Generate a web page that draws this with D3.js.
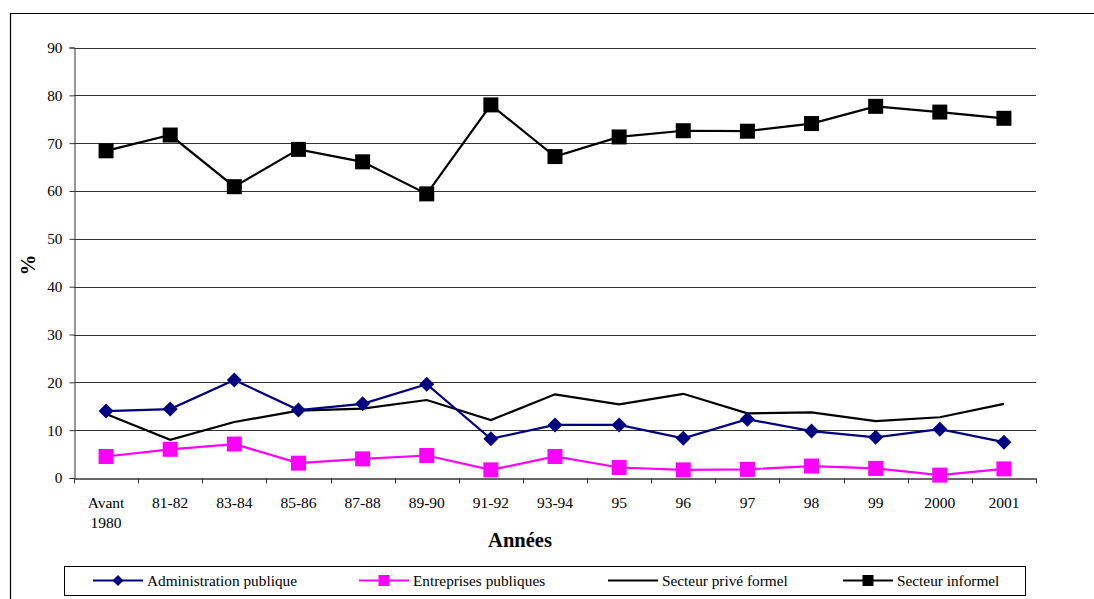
<!DOCTYPE html>
<html>
<head>
<meta charset="utf-8">
<script src="https://cdn.jsdelivr.net/npm/d3@7"></script>
<style>
  html, body { margin: 0; padding: 0; background: #fff; }
  svg { display: block; }
</style>
</head>
<body>
<svg id="chart" width="1094" height="599"></svg>
<script>
// Périodes (axe des abscisses)
const categories = ["Avant\n1980", "81-82", "83-84", "85-86", "87-88", "89-90", "91-92",
  "93-94", "95", "96", "97", "98", "99", "2000", "2001"];

// Répartition en % par secteur
const adminPublique = [14.0, 14.4, 20.5, 14.2, 15.5, 19.6, 8.2, 11.1, 11.1, 8.3, 12.3, 9.8, 8.5, 10.2, 7.5];
const entreprisesPubliques = [4.5, 6.0, 7.1, 3.1, 4.0, 4.7, 1.7, 4.5, 2.2, 1.7, 1.8, 2.5, 2.0, 0.6, 1.9];
const secteurPriveFormel = [13.4, 8.0, 11.7, 14.1, 14.5, 16.3, 12.1, 17.5, 15.4, 17.6, 13.5, 13.7, 11.9, 12.7, 15.5];
const secteurInformel = [68.4, 71.7, 60.9, 68.7, 66.1, 59.4, 78.0, 67.2, 71.3, 72.6, 72.5, 74.1, 77.7, 76.5, 75.2];

const yTicks = [0, 10, 20, 30, 40, 50, 60, 70, 80, 90];

const seriesNames = ["Administration publique", "Entreprises publiques", "Secteur privé formel", "Secteur informel"];

const FONT = "'Liberation Serif', 'Times New Roman', Times, 'DejaVu Serif', serif";

const svg = d3.select("#chart").attr("font-family", FONT);

// Cadre extérieur
svg.append("path")
  .attr("d", "M1094,13.5 L10.5,13.5 L10.5,599")
  .attr("fill", "none").attr("stroke", "#000").attr("stroke-width", 1.2);

const plot = { left: 74, right: 1036, top: 47.5, bottom: 478 };

const x = d3.scaleBand().domain(categories).range([plot.left, plot.right]).padding(0);
const y = d3.scaleLinear().domain([0, 90]).range([plot.bottom, plot.top]);
const cx = c => x(c) + x.bandwidth() / 2;

// Quadrillage horizontal
svg.append("g")
  .selectAll("line")
  .data(yTicks.filter(t => t > 0))
  .join("line")
  .attr("x1", plot.left).attr("x2", plot.right)
  .attr("y1", d => Math.round(y(d)) + 0.5).attr("y2", d => Math.round(y(d)) + 0.5)
  .attr("stroke", "#333").attr("stroke-width", 1);

// Axe des ordonnées
const yAxis = svg.append("g")
  .attr("transform", `translate(${plot.left + 0.5},0)`)
  .call(d3.axisLeft(y).tickValues(yTicks).tickSize(5).tickPadding(7))
  .attr("font-family", FONT).attr("font-size", 15.3);
yAxis.select(".domain").attr("stroke", "#333");
yAxis.selectAll(".tick line").attr("stroke", "#333");
yAxis.selectAll(".tick text").attr("fill", "#000");

// Axe des abscisses
const xAxis = svg.append("g")
  .attr("transform", `translate(0,${Math.round(plot.bottom) + 0.5})`)
  .call(d3.axisBottom(x).tickSize(0).tickFormat(""));
xAxis.select(".domain").attr("stroke", "#333").attr("stroke-width", 1.3);
// graduations entre les catégories
xAxis.selectAll("line.sep")
  .data(categories.map(c => x(c)).concat([plot.right]))
  .join("line")
  .attr("class", "sep")
  .attr("x1", d => Math.round(d) + 0.5).attr("x2", d => Math.round(d) + 0.5)
  .attr("y1", 0).attr("y2", 5)
  .attr("stroke", "#333");

// Libellés des catégories
const labels = svg.append("g").attr("font-family", FONT).attr("font-size", 15.5);
categories.forEach(c => {
  const lines = c.split("\n");
  const t = labels.append("text")
    .attr("x", cx(c)).attr("y", 508)
    .attr("text-anchor", "middle");
  lines.forEach((l, i) => {
    t.append("tspan").attr("x", cx(c)).attr("dy", i === 0 ? 0 : 20).text(l);
  });
});

// Titres des axes
svg.append("text")
  .attr("transform", "translate(35,265) rotate(-90)")
  .attr("text-anchor", "middle")
  .attr("font-size", 21).attr("font-weight", "bold")
  .text("%");

svg.append("text")
  .attr("x", 520).attr("y", 547)
  .attr("text-anchor", "middle")
  .attr("font-size", 20.5).attr("font-weight", "bold")
  .text("Années");

// Séries
const line = d3.line().x((d, i) => cx(categories[i])).y(d => y(d));

function diamond(g, data, color, size) {
  g.selectAll("path.m").data(data).join("path")
    .attr("class", "m")
    .attr("transform", (d, i) => `translate(${cx(categories[i])},${y(d)})`)
    .attr("d", `M0,${-size} L${size},0 L0,${size} L${-size},0 Z`)
    .attr("fill", color);
}
function square(g, data, color, half) {
  g.selectAll("rect.m").data(data).join("rect")
    .attr("class", "m")
    .attr("x", (d, i) => cx(categories[i]) - half)
    .attr("y", d => y(d) - half)
    .attr("width", half * 2).attr("height", half * 2)
    .attr("fill", color);
}

// Secteur privé formel (ligne seule)
svg.append("path").datum(secteurPriveFormel)
  .attr("d", line).attr("fill", "none").attr("stroke", "#000").attr("stroke-width", 2.2);

// Entreprises publiques
const gEnt = svg.append("g");
gEnt.append("path").datum(entreprisesPubliques)
  .attr("d", line).attr("fill", "none").attr("stroke", "#ff00ff").attr("stroke-width", 2.2);
square(gEnt, entreprisesPubliques, "#ff00ff", 7.5);

// Administration publique
const gAdm = svg.append("g");
gAdm.append("path").datum(adminPublique)
  .attr("d", line).attr("fill", "none").attr("stroke", "#000080").attr("stroke-width", 2.2);
diamond(gAdm, adminPublique, "#000080", 7.5);

// Secteur informel
const gInf = svg.append("g");
gInf.append("path").datum(secteurInformel)
  .attr("d", line).attr("fill", "none").attr("stroke", "#000").attr("stroke-width", 2.2);
square(gInf, secteurInformel, "#000", 7.5);

// Légende
const legend = svg.append("g").attr("font-family", FONT).attr("font-size", 15.3);
legend.append("rect")
  .attr("x", 64.5).attr("y", 566.5).attr("width", 961).attr("height", 29)
  .attr("fill", "#fff").attr("stroke", "#000").attr("stroke-width", 1);

const legendItems = [
  { name: seriesNames[0], color: "#000080", marker: "diamond", x0: 93 },
  { name: seriesNames[1], color: "#ff00ff", marker: "square", x0: 359 },
  { name: seriesNames[2], color: "#000", marker: "none", x0: 608 },
  { name: seriesNames[3], color: "#000", marker: "square", x0: 843 }
];
legendItems.forEach(it => {
  const ly = 580.5;
  legend.append("line")
    .attr("x1", it.x0).attr("x2", it.x0 + 50)
    .attr("y1", ly).attr("y2", ly)
    .attr("stroke", it.color).attr("stroke-width", 2.2);
  const mx = it.x0 + 25;
  if (it.marker === "diamond") {
    legend.append("path")
      .attr("d", `M${mx},${ly - 5.5} L${mx + 5.5},${ly} L${mx},${ly + 5.5} L${mx - 5.5},${ly} Z`)
      .attr("fill", it.color);
  } else if (it.marker === "square") {
    legend.append("rect")
      .attr("x", mx - 5.5).attr("y", ly - 5.5).attr("width", 11).attr("height", 11)
      .attr("fill", it.color);
  }
  legend.append("text")
    .attr("x", it.x0 + 54).attr("y", ly + 5)
    .text(it.name);
});
</script>
</body>
</html>
